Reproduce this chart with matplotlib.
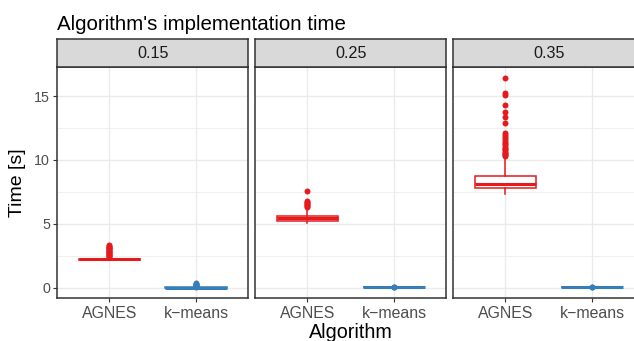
import matplotlib.pyplot as plt
from matplotlib.ticker import MultipleLocator

plt.rcParams['font.family'] = ['Liberation Sans', 'DejaVu Sans']

# facet levels and algorithms
groups = ["0.15", "0.25", "0.35"]
algorithms = ["AGNES", "k\u2212means"]
colors = ["#E41A1C", "#377EB8"]

# boxplot summaries of run time [s], one entry per facet
agnes_whislo = [2.17, 5.05, 7.31]
agnes_q1 = [2.20, 5.23, 7.78]
agnes_med = [2.24, 5.44, 8.11]
agnes_q3 = [2.28, 5.65, 8.73]
agnes_whishi = [2.37, 6.09, 10.23]
agnes_fliers = [
    [2.41, 2.46, 2.53, 2.58, 2.65, 2.71, 2.77, 2.82, 2.89, 2.95, 3.01, 3.08,
     3.13, 3.19, 3.26, 3.33],
    [6.32, 6.40, 6.47, 6.55, 6.63, 6.72, 6.81, 7.54],
    [10.30, 10.38, 10.46, 10.55, 10.64, 10.76, 10.86, 10.97, 11.08, 11.21,
     11.36, 11.52, 11.66, 11.83, 11.97, 12.13, 12.93, 13.40, 13.73, 14.28,
     15.10, 15.24, 16.45],
]

kmeans_whislo = [0.00, 0.02, 0.02]
kmeans_q1 = [0.01, 0.03, 0.03]
kmeans_med = [0.02, 0.04, 0.04]
kmeans_q3 = [0.03, 0.05, 0.05]
kmeans_whishi = [0.06, 0.07, 0.07]
kmeans_fliers = [
    [0.10, 0.14, 0.18, 0.22, 0.27, 0.31, 0.35],
    [0.08, 0.10],
    [0.08, 0.10],
]

W, H = 634, 341
fig = plt.figure(figsize=(W / 100, H / 100), dpi=100)

panel_left = [57.3, 255.3, 453.3]
panel_w = 191.0
panel_top, panel_bot = 67.0, 298.3
strip_top = 39.3

all_vals = (agnes_whislo + agnes_whishi + kmeans_whislo + kmeans_whishi
            + [v for f in agnes_fliers + kmeans_fliers for v in f])
lo, hi = min(all_vals), max(all_vals)
pad = 0.05 * (hi - lo)

grid_c = "#EBEBEB"
border_c = "#333333"

for i, g in enumerate(groups):
    x0 = panel_left[i] / W
    ax = fig.add_axes([x0, (H - panel_bot) / H, panel_w / W,
                       (panel_bot - panel_top) / H])
    stats = [
        dict(whislo=agnes_whislo[i], q1=agnes_q1[i], med=agnes_med[i],
             q3=agnes_q3[i], whishi=agnes_whishi[i], fliers=agnes_fliers[i]),
        dict(whislo=kmeans_whislo[i], q1=kmeans_q1[i], med=kmeans_med[i],
             q3=kmeans_q3[i], whishi=kmeans_whishi[i], fliers=kmeans_fliers[i]),
    ]
    for j, st in enumerate(stats):
        c = colors[j]
        ax.bxp([st], positions=[j + 1], widths=0.71, showcaps=False,
               patch_artist=True,
               boxprops=dict(facecolor="white", edgecolor=c, linewidth=1.1),
               medianprops=dict(color=c, linewidth=2.2, solid_capstyle="butt"),
               whiskerprops=dict(color=c, linewidth=1.1),
               flierprops=dict(marker="o", markerfacecolor=c,
                               markeredgecolor=c, markersize=4.3,
                               markeredgewidth=0),
               zorder=3)

    ax.set_xlim(0.4, 2.6)
    ax.set_ylim(lo - pad, hi + pad)
    ax.set_xticks([1, 2])
    ax.set_xticklabels(algorithms)
    ax.yaxis.set_major_locator(MultipleLocator(5))
    ax.yaxis.set_minor_locator(MultipleLocator(2.5))
    ax.grid(True, which="major", color=grid_c, linewidth=1.0, zorder=0)
    ax.grid(True, which="minor", axis="y", color=grid_c, linewidth=0.55,
            zorder=0)
    ax.set_axisbelow(True)
    ax.tick_params(which="minor", length=0)
    ax.tick_params(which="major", length=3.2, width=0.8, color=border_c,
                   labelcolor="#4D4D4D", pad=2)
    ax.tick_params(axis="x", labelsize=11.4)
    ax.tick_params(axis="y", labelsize=10.3)
    if i > 0:
        ax.tick_params(axis="y", left=False, labelleft=False)
    for s in ax.spines.values():
        s.set_color(border_c)
        s.set_linewidth(1.1)

    # facet strip
    sax = fig.add_axes([x0, (H - panel_top) / H, panel_w / W,
                        (panel_top - strip_top) / H])
    sax.set_facecolor("#D9D9D9")
    sax.set_xticks([])
    sax.set_yticks([])
    for s in sax.spines.values():
        s.set_color(border_c)
        s.set_linewidth(1.1)
    sax.text(0.5, 0.5, g, ha="center", va="center", fontsize=11.6,
             color="#1A1A1A", transform=sax.transAxes)

fig.text(57.3 / W, 1 - 29.5 / H, "Algorithm's implementation time",
         fontsize=14.8, color="black", ha="left", va="baseline")
fig.text(18 / W, 1 - (panel_top + panel_bot) / 2 / H, "Time [s]",
         fontsize=14.0, rotation=90, ha="center", va="center")
fig.text((panel_left[0] + panel_left[2] + panel_w) / 2 / W, 1 - 338.5 / H,
         "Algorithm", fontsize=14.2, ha="center", va="baseline")

fig.savefig("out.png", dpi=100)
